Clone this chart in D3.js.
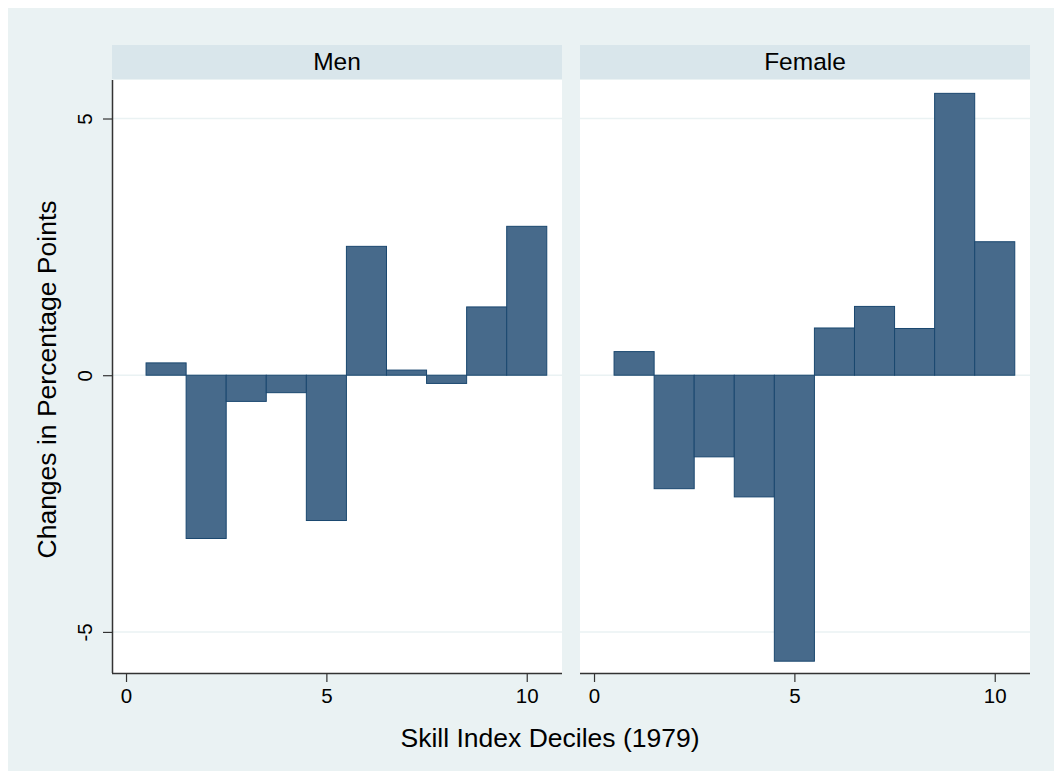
<!DOCTYPE html>
<html>
<head>
<meta charset="utf-8">
<script src="https://d3js.org/d3.v7.min.js"></script>
<style>
  body { margin: 0; background: #fff; }
  text { font-family: "Liberation Sans", Arial, sans-serif; fill: #000; }
</style>
</head>
<body>
<script>
// decile changes, percentage points
var deciles = [1, 2, 3, 4, 5, 6, 7, 8, 9, 10];
var menValues = [0.24, -3.18, -0.51, -0.34, -2.83, 2.51, 0.10, -0.16, 1.33, 2.90];
var femaleValues = [0.46, -2.21, -1.59, -2.37, -5.57, 0.92, 1.34, 0.91, 5.49, 2.60];
var panelNames = ["Men", "Female"];
var xTicks = [0, 5, 10];
var yTicks = [-5, 0, 5];

var width = 1054, height = 771;

var svg = d3.select("body").append("svg")
  .attr("width", width)
  .attr("height", height);

// outer stata-ish background
svg.append("rect")
  .attr("x", 8).attr("y", 8)
  .attr("width", width - 8).attr("height", height - 8)
  .attr("fill", "#eaf2f3");

var plotTop = 80, plotBottom = 673;
var panels = [
  { name: panelNames[0], values: menValues, x0: 112, x1: 562 },
  { name: panelNames[1], values: femaleValues, x0: 580, x1: 1030 }
];

var y = d3.scaleLinear().domain([-5.8, 5.75]).range([plotBottom, plotTop]);

panels.forEach(function(p, i) {
  var x = d3.scaleLinear().domain([-0.35, 10.88]).range([p.x0, p.x1]);
  var g = svg.append("g");

  // header strip
  g.append("rect")
    .attr("x", p.x0).attr("y", 45)
    .attr("width", p.x1 - p.x0).attr("height", 34)
    .attr("fill", "#d9e6eb");
  g.append("text")
    .attr("x", (p.x0 + p.x1) / 2).attr("y", 70)
    .attr("text-anchor", "middle")
    .style("font-size", "24.5px")
    .text(p.name);

  // plot area
  g.append("rect")
    .attr("x", p.x0).attr("y", plotTop)
    .attr("width", p.x1 - p.x0).attr("height", plotBottom - plotTop)
    .attr("fill", "#fff");

  // gridlines
  g.selectAll(".grid").data(yTicks).enter().append("line")
    .attr("x1", p.x0).attr("x2", p.x1)
    .attr("y1", function(d) { return y(d); })
    .attr("y2", function(d) { return y(d); })
    .attr("stroke", "#eaf2f3")
    .attr("stroke-width", 1.5);

  // bars
  g.selectAll(".bar").data(deciles).enter().append("rect")
    .attr("x", function(d) { return x(d - 0.5); })
    .attr("width", function(d) { return x(d + 0.5) - x(d - 0.5); })
    .attr("y", function(d, j) { return y(Math.max(0, p.values[j])); })
    .attr("height", function(d, j) { return Math.abs(y(p.values[j]) - y(0)); })
    .attr("fill", "#476a8b")
    .attr("stroke", "#1a476f")
    .attr("stroke-width", 1);

  // x axis
  var xAxis = d3.axisBottom(x).tickValues(xTicks).tickSize(9).tickPadding(6)
    .tickFormat(function(d) { return String(d); });
  var ax = g.append("g")
    .attr("transform", "translate(0," + plotBottom + ")")
    .call(xAxis);
  ax.select(".domain").attr("d", "M" + p.x0 + ",0.5H" + p.x1)
    .attr("stroke", "#333").attr("stroke-width", 1.5);
  ax.selectAll(".tick line").attr("stroke", "#333").attr("stroke-width", 1.2);
  ax.selectAll(".tick text").style("font-size", "20.5px")
    .style("font-family", "Liberation Sans, Arial, sans-serif").attr("fill", "#000");

  if (i === 0) {
    var yAxis = d3.axisLeft(y).tickValues(yTicks).tickSize(9)
      .tickFormat(function(d) { return String(d); });
    var ay = g.append("g")
      .attr("transform", "translate(" + p.x0 + ",0)")
      .call(yAxis);
    ay.select(".domain").attr("d", "M0.5," + plotTop + "V" + plotBottom)
      .attr("stroke", "#333").attr("stroke-width", 1.5);
    ay.selectAll(".tick line").attr("stroke", "#333").attr("stroke-width", 1.2);
    ay.selectAll(".tick text")
      .attr("x", null).attr("dy", null)
      .attr("transform", "translate(-20,0) rotate(-90)")
      .attr("text-anchor", "middle")
      .attr("y", 0)
      .style("font-size", "20.5px")
      .style("font-family", "Liberation Sans, Arial, sans-serif").attr("fill", "#000");
  }
});

// axis titles
svg.append("text")
  .attr("x", 550).attr("y", 747)
  .attr("text-anchor", "middle")
  .style("font-size", "26.5px")
  .text("Skill Index Deciles (1979)");

svg.append("text")
  .attr("transform", "translate(56," + ((plotTop + plotBottom) / 2 + 3) + ") rotate(-90)")
  .attr("text-anchor", "middle")
  .style("font-size", "26.5px")
  .text("Changes in Percentage Points");
</script>
</body>
</html>
